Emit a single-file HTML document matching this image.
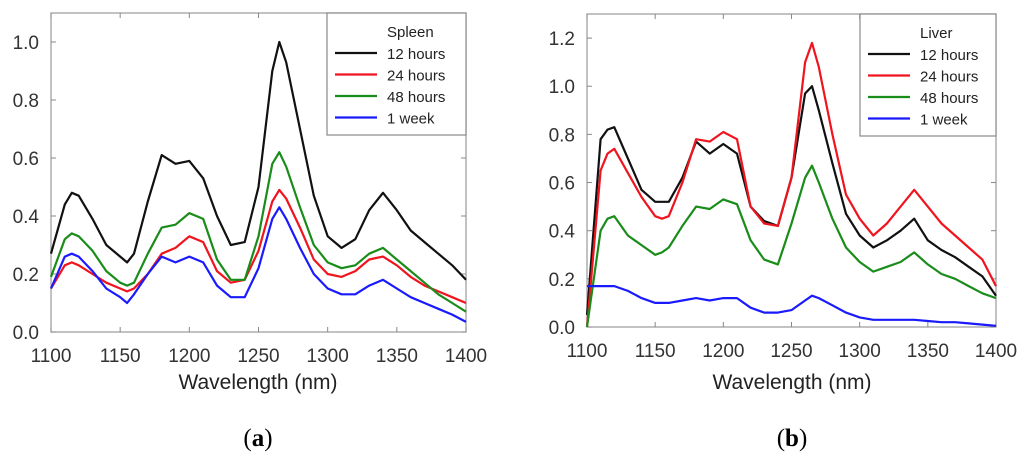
<!DOCTYPE html>
<html><head><meta charset="utf-8"><style>
body{margin:0;background:#fff;width:1024px;height:465px;overflow:hidden}
svg{display:block}
text{font-family:"Liberation Sans",sans-serif}
</style></head><body>
<svg id="s" width="1024" height="465">
<text x="258" y="389" text-anchor="middle" font-size="21" fill="#222">Wavelength (nm)</text>
<text x="792" y="389" text-anchor="middle" font-size="21" fill="#222">Wavelength (nm)</text>
<text x="258" y="446" text-anchor="middle" font-size="25" style="font-family:'Liberation Serif',serif">(<tspan font-weight="bold">a</tspan>)</text>
<text x="792" y="446" text-anchor="middle" font-size="25" style="font-family:'Liberation Serif',serif">(<tspan font-weight="bold">b</tspan>)</text>
</svg>
<script>
const wl=[1100,1110,1115,1120,1130,1140,1150,1155,1160,1170,1180,1190,1200,1210,1220,1230,1240,1250,1260,1265,1270,1280,1290,1300,1310,1320,1330,1340,1350,1360,1370,1380,1390,1400];
const spleen12=[.27,.44,.48,.47,.39,.30,.26,.24,.27,.45,.61,.58,.59,.53,.40,.30,.31,.50,.90,1.0,.93,.70,.47,.33,.29,.32,.42,.48,.42,.35,.31,.27,.23,.18];
const spleen24=[.15,.23,.24,.23,.20,.17,.15,.14,.15,.20,.27,.29,.33,.31,.21,.17,.18,.28,.45,.49,.46,.36,.25,.20,.19,.21,.25,.26,.23,.19,.16,.14,.12,.10];
const spleen48=[.19,.32,.34,.33,.28,.21,.17,.16,.17,.27,.36,.37,.41,.39,.25,.18,.18,.33,.58,.62,.57,.43,.30,.24,.22,.23,.27,.29,.25,.21,.17,.13,.10,.07];
const spleen1w=[.15,.26,.27,.26,.21,.15,.12,.10,.13,.20,.26,.24,.26,.24,.16,.12,.12,.22,.39,.43,.39,.29,.20,.15,.13,.13,.16,.18,.15,.12,.10,.08,.06,.035];
const liver12=[.05,.78,.82,.83,.70,.57,.52,.52,.52,.62,.77,.72,.76,.72,.50,.44,.42,.62,.97,1.0,.90,.68,.47,.38,.33,.36,.40,.45,.36,.32,.29,.25,.21,.13];
const liver24=[0,.65,.72,.74,.64,.54,.46,.45,.46,.60,.78,.77,.81,.78,.50,.43,.42,.62,1.10,1.18,1.08,.80,.55,.45,.38,.43,.50,.57,.50,.43,.38,.33,.28,.17];
const liver48=[0,.40,.45,.46,.38,.34,.30,.31,.33,.42,.50,.49,.53,.51,.36,.28,.26,.43,.62,.67,.60,.45,.33,.27,.23,.25,.27,.31,.26,.22,.20,.17,.14,.12];
const liver1w=[.17,.17,.17,.17,.15,.12,.10,.10,.10,.11,.12,.11,.12,.12,.08,.06,.06,.07,.11,.13,.12,.09,.06,.04,.03,.03,.03,.03,.025,.02,.02,.015,.01,.005];
const xTicks=[1100,1150,1200,1250,1300,1350,1400];
const yTicksA=["0.0","0.2","0.4","0.6","0.8","1.0"];
const yTicksB=["0.0","0.2","0.4","0.6","0.8","1.0","1.2"];
const seriesNames=["12 hours","24 hours","48 hours","1 week"];
const colors=["#111","#f0141e","#1a8c1a","#1a1aff"];
const NS="http://www.w3.org/2000/svg";
const svg=document.getElementById('s');
function mk(t,a,p){const e=document.createElementNS(NS,t);for(const k in a)e.setAttribute(k,a[k]);(p||svg).appendChild(e);return e;}
function panel(id,L,R,T,B,ymax,yt,series,title,lg){
  const g=mk('g',{});
  
  
  const X=v=>L+(v-1100)/300*(R-L), Y=v=>B-v/ymax*(B-T);
  const fr=mk('rect',{x:L,y:T,width:R-L,height:B-T,fill:'none',stroke:'#999','stroke-width':1.2},g);
  
  
  xTicks.forEach(v=>{
    mk('line',{x1:X(v),x2:X(v),y1:B,y2:B-5,stroke:'#888'},g);
    mk('line',{x1:X(v),x2:X(v),y1:T,y2:T+5,stroke:'#888'},g);
    const t=mk('text',{x:X(v),y:B+30,'text-anchor':'middle','font-size':19,fill:'#333'},g);t.textContent=v;
    
    
  });
  yt.forEach(s=>{const v=+s;
    mk('line',{x1:L,x2:L+5,y1:Y(v),y2:Y(v),stroke:'#888'},g);
    mk('line',{x1:R,x2:R-5,y1:Y(v),y2:Y(v),stroke:'#888'},g);
    const t=mk('text',{x:L-12,y:Y(v)+7,'text-anchor':'end','font-size':19,fill:'#333'},g);t.textContent=s;
    
    
  });
  series.forEach((d,i)=>{
    const p=mk('polyline',{points:d.map((v,j)=>X(wl[j]).toFixed(1)+','+Y(v).toFixed(1)).join(' '),fill:'none',stroke:colors[i],'stroke-width':2.2,'stroke-linejoin':'round'},g);
    
    
  });
  const lr=mk('rect',{x:lg,y:T,width:R-lg,height:122,fill:'#fff',stroke:'#888','stroke-width':1.2},g);
  
  
  const tt=mk('text',{x:lg+60,y:T+24,'font-size':15,fill:'#222'},g);tt.textContent=title;
  
  
  seriesNames.forEach((n,i)=>{const y=T+40+i*21.5;
    mk('line',{x1:lg+8,x2:lg+50,y1:y,y2:y,stroke:colors[i],'stroke-width':2.2},g);
    const t=mk('text',{x:lg+60,y:y+6,'font-size':15,fill:'#222'},g);t.textContent=n;
    
    
  });
}
panel('a',51,466,13,332,1.1,yTicksA,[spleen12,spleen24,spleen48,spleen1w],'Spleen',327);
panel('b',587,996,14,327,1.3,yTicksB,[liver12,liver24,liver48,liver1w],'Liver',860);
</script>
</body></html>
